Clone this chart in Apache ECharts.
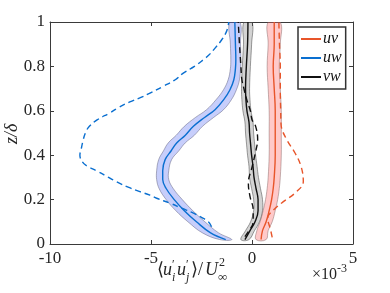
<!DOCTYPE html>
<html>
<head>
<meta charset="utf-8">
<script src="https://cdn.jsdelivr.net/npm/echarts@6/dist/echarts.min.js"></script>
<style>html,body{margin:0;padding:0;background:#fff;}#c{width:390px;height:293px;}</style>
</head>
<body>
<div id="c"></div>
<script>
// ---- data (x in units of 1e-3, y = z/delta) ----
const uvY   = [0.02,0.06,0.1,0.15,0.2,0.25,0.3,0.4,0.5,0.6,0.7,0.8,0.9,1.0];
const uvX   = [0.45,0.52,0.7,0.85,0.97,1.05,1.1,1.15,1.15,1.15,1.1,1.05,1.1,1.1];
const uvSig = [0.25,0.28,0.3,0.3,0.3,0.3,0.3,0.3,0.3,0.3,0.3,0.3,0.3,0.3];

const uwY   = [0.02,0.05,0.1,0.15,0.2,0.25,0.29,0.33,0.38,0.42,0.455,0.49,0.53,0.57,0.605,0.65,0.695,0.74,0.79,0.83,0.9,1.0];
const uwX   = [-1.3,-2.05,-2.75,-3.35,-3.85,-4.25,-4.42,-4.42,-4.3,-4.0,-3.73,-3.3,-2.9,-2.35,-1.83,-1.4,-1.09,-0.9,-0.82,-0.8,-0.82,-0.85];
const uwSig = [0.3,0.4,0.42,0.42,0.4,0.35,0.3,0.3,0.32,0.38,0.42,0.45,0.45,0.45,0.42,0.38,0.32,0.28,0.25,0.25,0.25,0.25];

const vwY   = [0.02,0.06,0.1,0.15,0.2,0.25,0.3,0.35,0.4,0.45,0.5,0.55,0.6,0.65,0.7,0.8,0.9,1.0];
const vwX   = [-0.35,-0.1,0.15,0.3,0.3,0.2,0.1,0.05,-0.02,-0.07,-0.12,-0.15,-0.25,-0.3,-0.32,-0.28,-0.22,-0.2];
const vwSig = [0.2,0.22,0.22,0.22,0.22,0.22,0.22,0.2,0.2,0.2,0.2,0.2,0.2,0.2,0.2,0.2,0.2,0.2];

const uvDY = [0.03,0.07,0.1,0.117,0.153,0.185,0.236,0.281,0.349,0.41,0.47,0.537,0.6,0.7,0.8,0.9,1.0];
const uvDX = [1.0,0.9,0.8,0.78,1.06,1.47,2.21,2.54,2.43,2.13,1.72,1.44,1.42,1.4,1.4,1.36,1.33];

const uwDY = [0.078,0.1,0.12,0.139,0.16,0.184,0.206,0.22,0.236,0.255,0.28,0.3,0.33,0.35,0.37,0.4,0.43,0.46,0.5,0.53,0.56,0.59,0.615,0.64,0.66,0.68,0.71,0.74,0.77,0.8,0.83,0.85,0.88,0.92,0.96,1.0];
const uwDX = [-2.0,-2.16,-2.5,-2.9,-3.45,-4.06,-4.72,-5.05,-5.55,-6.1,-6.7,-7.1,-7.7,-8.15,-8.4,-8.52,-8.45,-8.38,-8.25,-8.05,-7.65,-7.05,-6.6,-6.05,-5.5,-5.05,-4.4,-3.8,-3.4,-2.85,-2.41,-2.15,-1.85,-1.5,-1.25,-1.15];

const vwDY = [0.033,0.06,0.095,0.154,0.214,0.274,0.349,0.424,0.47,0.53,0.56,0.6,0.65,0.7,0.74,0.8,0.9,1.0];
const vwDX = [-0.35,-0.15,0.05,0.06,-0.1,-0.18,0.01,0.2,0.28,0.18,0.0,-0.08,-0.26,-0.4,-0.5,-0.55,-0.62,-0.68];

const xTicks = [-10,-5,0,5];
const seriesNames = ['uv','uw','vw'];

const cRed = '#e8552a', cBlue = '#0a6fd0', cBlack = '#111111';
const FONT = '"Liberation Serif", "Times New Roman", serif';

function pairs(xs, ys){ return xs.map((x,i)=>[x, ys[i]]); }

function band(xs, ys, sig, fill, stroke){
  return {
    type:'custom', silent:true, z:1, clip:true,
    data:[[xs[0], ys[0]]],
    renderItem:function(params, api){
      if (params.dataIndex !== 0) return;
      const pts = [];
      for (let i=0;i<xs.length;i++) pts.push(api.coord([xs[i]-sig[i], ys[i]]));
      for (let i=xs.length-1;i>=0;i--) pts.push(api.coord([xs[i]+sig[i], ys[i]]));
      return {type:'polygon', shape:{points:pts, smooth:0.4}, style:{fill:fill, stroke:stroke, lineWidth:0.8}};
    }
  };
}
function line(name, xs, ys, color, dashed, z){
  return {
    name:name, type:'line', data:pairs(xs,ys), showSymbol:false, smooth:0.4, silent:true,
    z:z, lineStyle:{color:color, width:1.4, type:dashed?[6,4]:'solid'},
    itemStyle:{color:color}
  };
}

const chart = echarts.init(document.getElementById('c'), null, {renderer:'canvas'});
const axisCommon = {
  type:'value', min:-10, max:5, interval:5,
  axisLine:{show:true, onZero:false, lineStyle:{color:'#3a3a3a', width:1}},
  axisTick:{show:true, inside:true, length:4, lineStyle:{color:'#3a3a3a'}},
  splitLine:{show:false}
};
const T = '#262626';
const F = function(size, italic){ return (italic?'italic ':'') + size + 'px ' + FONT; };
chart.setOption({
  animation:false,
  backgroundColor:'#fff',
  grid:{left:50, right:37, top:22, bottom:49},
  xAxis:[
    Object.assign({}, axisCommon, {position:'bottom',
      axisLabel:{margin:6, fontFamily:FONT, fontSize:17, color:T,
        formatter:function(v){ return xTicks.indexOf(v)>=0 ? String(v) : ''; }}}),
    Object.assign({}, axisCommon, {position:'top', axisLabel:{show:false}})
  ],
  yAxis:[
    {type:'value', min:0, max:1, interval:0.2, position:'left',
      axisLine:{show:true, onZero:false, lineStyle:{color:'#3a3a3a'}},
      axisTick:{show:true, inside:true, length:4, lineStyle:{color:'#3a3a3a'}},
      splitLine:{show:false},
      axisLabel:{margin:5, fontFamily:FONT, fontSize:17, color:T,
        formatter:function(v){ return v===0||v===1 ? String(v) : v.toFixed(1); }}},
    {type:'value', min:0, max:1, interval:0.2, position:'right',
      axisLine:{show:true, onZero:false, lineStyle:{color:'#3a3a3a'}},
      axisTick:{show:true, inside:true, length:4, lineStyle:{color:'#3a3a3a'}},
      splitLine:{show:false}, axisLabel:{show:false}}
  ],
  legend:{
    data:seriesNames, orient:'vertical', left:298, top:27,
    icon:'rect', itemWidth:20, itemHeight:2, itemGap:3,
    padding:[4,4,4,3], borderColor:'#333', borderWidth:1.5, backgroundColor:'#fff',
    selectedMode:false,
    textStyle:{fontFamily:FONT, fontStyle:'italic', fontSize:16, color:'#111', lineHeight:16, padding:[0,0,0,-3]}
  },
  graphic:[
    {type:'text', left:157, top:261, style:{text:'\u27E8', font:F(18), fill:T}},
    {type:'text', left:163, top:261, style:{text:'u', font:F(18,true), fill:T}},
    {type:'text', left:172, top:259, style:{text:'\u2032', font:F(12), fill:T}},
    {type:'text', left:172, top:272, style:{text:'i', font:F(12,true), fill:T}},
    {type:'text', left:177, top:261, style:{text:'u', font:F(18,true), fill:T}},
    {type:'text', left:186, top:259, style:{text:'\u2032', font:F(12), fill:T}},
    {type:'text', left:186, top:272, style:{text:'j', font:F(12,true), fill:T}},
    {type:'text', left:191, top:261, style:{text:'\u27E9/', font:F(18), fill:T}},
    {type:'text', left:205, top:261, style:{text:'U', font:F(18,true), fill:T}},
    {type:'text', left:219, top:257, style:{text:'2', font:F(12), fill:T}},
    {type:'text', left:218, top:271, style:{text:'\u221E', font:F(13), fill:T}},
    {type:'text', left:312, top:267, style:{text:'\u00D710', font:F(16), fill:T}},
    {type:'text', left:337, top:263, style:{text:'-3', font:F(12), fill:T}},
    {type:'text', x:3, y:144, rotation:Math.PI/2, style:{text:'z/\u03B4', font:F(18,true), fill:T}}
  ],
  series:[
    band(uwX, uwY, uwSig, 'rgba(100,120,245,0.36)', 'rgba(90,90,120,0.6)'),
    band(vwX, vwY, vwSig, 'rgba(110,110,110,0.3)', 'rgba(80,80,80,0.7)'),
    band(uvX, uvY, uvSig, 'rgba(255,100,100,0.35)', 'rgba(130,100,100,0.6)'),
    line('uw', uwX, uwY, cBlue, false, 3),
    line('vw', vwX, vwY, cBlack, false, 3),
    line('uv', uvX, uvY, cRed, false, 3),
    line('uwD', uwDX, uwDY, cBlue, true, 4),
    line('vwD', vwDX, vwDY, cBlack, true, 4),
    line('uvD', uvDX, uvDY, cRed, true, 4)
  ]
});
</script>
</body>
</html>
